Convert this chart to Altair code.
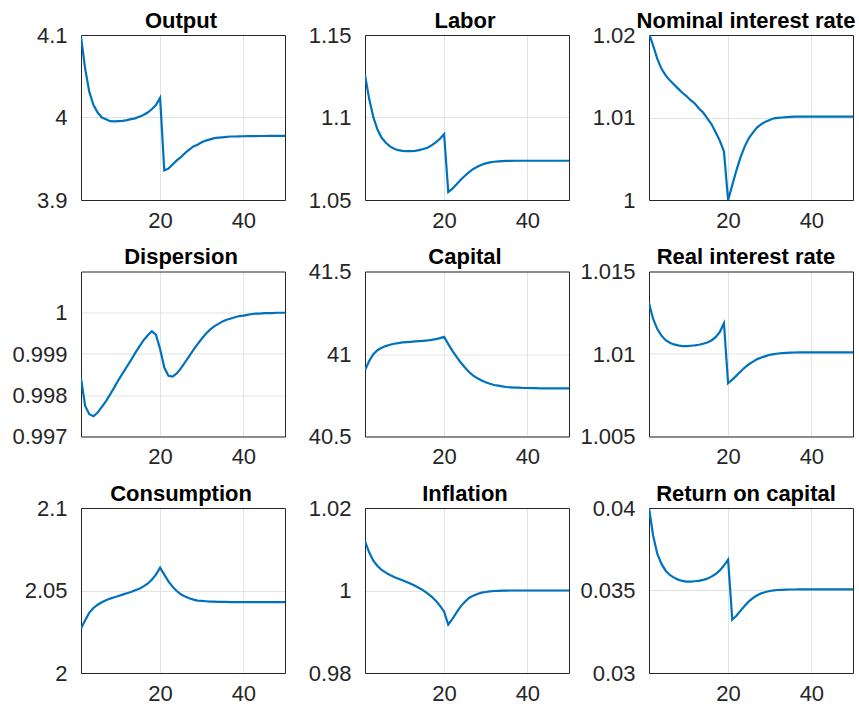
import altair as alt
import pandas as pd

T = list(range(1, 51))

output = [4.098, 4.059, 4.031, 4.015, 4.006, 4.000, 3.998, 3.9956, 3.9952, 3.9956,
          3.996, 3.9968, 3.998, 3.999, 4.001, 4.003, 4.006, 4.010, 4.015, 4.024,
          3.936, 3.938, 3.943, 3.948, 3.952, 3.957, 3.961, 3.965, 3.967, 3.970,
          3.972, 3.9735, 3.975, 3.9755, 3.976, 3.9765, 3.977, 3.977, 3.9772, 3.9773,
          3.9774, 3.9775, 3.9775, 3.9776, 3.9776, 3.9777, 3.9777, 3.9777, 3.9778, 3.9778]

labor = [1.1258, 1.1113, 1.1002, 1.0927, 1.0877, 1.0847, 1.0825, 1.0811, 1.0802, 1.0798,
         1.0796, 1.0796, 1.0798, 1.0802, 1.0809, 1.0817, 1.0831, 1.0849, 1.0871, 1.0899,
         1.0548, 1.0569, 1.0595, 1.0623, 1.0647, 1.0669, 1.0688, 1.0702, 1.0714, 1.0722,
         1.0728, 1.0732, 1.0734, 1.0736, 1.0737, 1.0737, 1.0738, 1.0738, 1.0738, 1.0738,
         1.0738, 1.0738, 1.0738, 1.0738, 1.0738, 1.0738, 1.0738, 1.0738, 1.0738, 1.0738]

nominal = [1.0202, 1.0187, 1.0171, 1.0159, 1.0151, 1.0145, 1.0140, 1.0135, 1.0130, 1.0126,
           1.0121, 1.0117, 1.0111, 1.0106, 1.0099, 1.0092, 1.0082, 1.0072, 1.0059, 1.0000,
           1.0018, 1.0036, 1.0052, 1.0065, 1.0075, 1.0082, 1.0088, 1.0092, 1.0095, 1.0097,
           1.0099, 1.00996, 1.0100, 1.01005, 1.01008, 1.0101, 1.0101, 1.0101, 1.0101, 1.0101,
           1.0101, 1.0101, 1.0101, 1.0101, 1.0101, 1.0101, 1.0101, 1.0101, 1.0101, 1.0101]

dispersion = [0.998415, 0.99774, 0.99754, 0.99749, 0.99758, 0.99772, 0.99786, 0.99802, 0.99819, 0.99837,
              0.99853, 0.99869, 0.99885, 0.99902, 0.99918, 0.99933, 0.99945, 0.99955, 0.99947, 0.99912,
              0.99867, 0.99847, 0.99845, 0.99853, 0.99865, 0.99880, 0.99895, 0.99910, 0.99924, 0.99937,
              0.99949, 0.99959, 0.99967, 0.99973, 0.99979, 0.99983, 0.99986, 0.99989, 0.99992, 0.99993,
              0.99995, 0.99997, 0.99998, 0.99998, 0.99999, 0.99999, 0.99999, 1.0, 1.0, 1.0]

capital = [40.902, 40.958, 40.999, 41.023, 41.038, 41.048, 41.056, 41.062, 41.066, 41.070,
           41.072, 41.074, 41.076, 41.078, 41.080, 41.082, 41.086, 41.090, 41.096, 41.104,
           41.060, 41.019, 40.983, 40.948, 40.918, 40.891, 40.869, 40.853, 40.839, 40.829,
           40.820, 40.812, 40.808, 40.804, 40.800, 40.798, 40.796, 40.796, 40.794, 40.794,
           40.793, 40.793, 40.792, 40.792, 40.792, 40.792, 40.792, 40.792, 40.792, 40.792]

real_rate = [1.01309, 1.01212, 1.01151, 1.01111, 1.01084, 1.01068, 1.01058, 1.01052, 1.01048, 1.01048,
             1.0105, 1.01052, 1.01056, 1.01062, 1.0107, 1.01082, 1.01102, 1.01133, 1.01186, 1.00823,
             1.00845, 1.00869, 1.00894, 1.00918, 1.00938, 1.00954, 1.00969, 1.00979, 1.00987, 1.00995,
             1.00999, 1.01003, 1.01005, 1.01007, 1.01008, 1.01009, 1.0101, 1.0101, 1.0101, 1.0101,
             1.0101, 1.0101, 1.0101, 1.0101, 1.0101, 1.0101, 1.0101, 1.0101, 1.0101, 1.0101]

consumption = [2.02696, 2.0320, 2.0366, 2.0394, 2.0414, 2.0429, 2.0441, 2.0451, 2.0459, 2.0467,
               2.0475, 2.0483, 2.0491, 2.0501, 2.0511, 2.0525, 2.0541, 2.0565, 2.0596, 2.0638,
               2.0596, 2.0555, 2.0523, 2.0497, 2.0477, 2.0463, 2.0453, 2.0445, 2.0439, 2.0437,
               2.0435, 2.0433, 2.0433, 2.0431, 2.0431, 2.0431, 2.0430, 2.0430, 2.0430, 2.0430,
               2.0430, 2.0430, 2.0430, 2.0430, 2.0430, 2.0430, 2.0430, 2.0430, 2.0430, 2.0430]

inflation = [1.01192, 1.00925, 1.00723, 1.00594, 1.00497, 1.00432, 1.00376, 1.00327, 1.00287, 1.00246,
             1.00206, 1.00166, 1.00117, 1.00061, 1.00004, 0.99931, 0.99850, 0.99754, 0.99632, 0.99487,
             0.99172, 0.99309, 0.99471, 0.99616, 0.99729, 0.99818, 0.99875, 0.99915, 0.99947, 0.99964,
             0.9998, 0.99988, 0.99993, 0.99996, 0.99998, 1.0, 1.0, 1.0, 1.0, 1.0,
             1.0, 1.0, 1.0, 1.0, 1.0, 1.0, 1.0, 1.0, 1.0, 1.0]

ret_capital = [0.0400, 0.03832, 0.03721, 0.03661, 0.03620, 0.03594, 0.03578, 0.03566, 0.03558, 0.03554,
               0.03554, 0.03556, 0.03558, 0.03564, 0.03572, 0.03584, 0.03600, 0.03622, 0.03651, 0.03687,
               0.03323, 0.03347, 0.03378, 0.03408, 0.03434, 0.03455, 0.03471, 0.03483, 0.03491, 0.03497,
               0.03501, 0.03503, 0.03504, 0.03505, 0.03506, 0.03506, 0.03507, 0.03507, 0.03507, 0.03507,
               0.03507, 0.03507, 0.03507, 0.03507, 0.03507, 0.03507, 0.03507, 0.03507, 0.03507, 0.03507]

titles = ["Output", "Labor", "Nominal interest rate",
          "Dispersion", "Capital", "Real interest rate",
          "Consumption", "Inflation", "Return on capital"]
series = [output, labor, nominal, dispersion, capital, real_rate, consumption, inflation, ret_capital]
domains = [[3.9, 4.1], [1.05, 1.15], [1.0, 1.02],
           [0.997, 1.001], [40.5, 41.5], [1.005, 1.015],
           [2.0, 2.1], [0.98, 1.02], [0.03, 0.04]]
yticks = [[3.9, 4.0, 4.1], [1.05, 1.1, 1.15], [1.0, 1.01, 1.02],
          [0.997, 0.998, 0.999, 1.0], [40.5, 41.0, 41.5], [1.005, 1.01, 1.015],
          [2.0, 2.05, 2.1], [0.98, 1.0, 1.02], [0.03, 0.035, 0.04]]
xticks = [20, 40]

FONT = "Liberation Sans"
AXC = "#262626"
W, H = 204, 165
TITLE_X = [100, 100, 97]


def panel(i):
    df = pd.DataFrame({"t": T, "v": series[i]})
    xs = alt.Scale(domain=[1, 50], nice=False, zero=False)
    ys = alt.Scale(domain=domains[i], nice=False, zero=False)
    base = alt.Chart(df)
    line = base.mark_line(color="#0072BD", strokeWidth=2.2, clip=True).encode(
        x=alt.X("t:Q", scale=xs, axis=alt.Axis(values=xticks, title=None, format="d",
                                                labelPadding=10)),
        y=alt.Y("v:Q", scale=ys, axis=alt.Axis(values=yticks[i], title=None, format="~g",
                                                labelPadding=14)),
    )
    frame = base.mark_line(opacity=0).encode(
        x=alt.X("t:Q", scale=xs, axis=alt.Axis(orient="top", labels=False, ticks=False,
                                                grid=False, title=None)),
        y=alt.Y("v:Q", scale=ys, axis=alt.Axis(orient="right", labels=False, ticks=False,
                                                grid=False, title=None)),
    )
    ttl = alt.Chart(pd.DataFrame({"title": [titles[i]]})).mark_text(
        font=FONT, fontSize=22, fontWeight="bold", color="#000000",
        align="center", baseline="alphabetic"
    ).encode(text="title:N", x=alt.value(TITLE_X[i % 3]), y=alt.value(-7.5))
    return alt.layer(line, frame, ttl).resolve_axis(x="independent", y="independent").properties(
        width=W, height=H)


chart = alt.concat(*[panel(i) for i in range(9)], columns=3,
                   spacing=alt.RowColnumber(row=71.5, column=80),
                   bounds="flush").properties(
    padding={"left": 11, "top": 9, "right": 0, "bottom": 3}
).configure_view(
    strokeWidth=0
).configure_axis(
    domainColor=AXC, domainWidth=1, ticks=False,
    labelFont=FONT, labelFontSize=22, labelColor=AXC,
    gridColor="#e3e3e3", gridWidth=1, labelFlush=False, labelOverlap=False
)

chart.save("out.html", embed_options={"renderer": "svg", "actions": False})
